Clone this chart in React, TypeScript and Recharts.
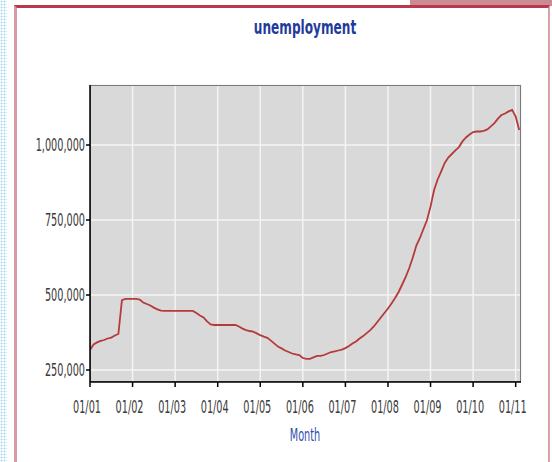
import { LineChart, Line, XAxis, YAxis, CartesianGrid, ReferenceArea } from 'recharts';

// monthly unemployment, Jan 2001 .. Feb 2011
const START_YEAR = 2001;
const UNEMPLOYMENT = [
  317000, 335000, 342000, 347000, 350000, 355000, 358000, 365000, 370000, 483000,
  487000, 487000, 487000, 487000, 485000, 475000, 470000, 465000, 458000, 452000,
  448000, 447000, 447000, 447000, 447000, 447000, 447000, 447000, 447000, 447000,
  440000, 432000, 425000, 412000, 402000, 400000, 400000, 400000, 400000, 400000,
  400000, 400000, 395000, 388000, 383000, 380000, 378000, 372000, 366000, 361000,
  357000, 348000, 338000, 328000, 322000, 315000, 310000, 305000, 302000, 300000,
  290000, 287000, 287000, 292000, 297000, 297000, 300000, 305000, 310000, 312000,
  315000, 318000, 323000, 330000, 338000, 345000, 355000, 363000, 373000, 383000,
  395000, 410000, 425000, 440000, 455000, 472000, 490000, 510000, 535000, 560000,
  590000, 625000, 665000, 690000, 720000, 750000, 795000, 850000, 885000, 912000,
  940000, 958000, 970000, 982000, 993000, 1012000, 1025000, 1035000, 1043000, 1045000,
  1045000, 1047000, 1052000, 1062000, 1073000, 1088000, 1100000, 1105000, 1112000, 1117000,
  1095000, 1050000,
];

const X_TICKS = [0, 12, 24, 36, 48, 60, 72, 84, 96, 108, 120];
const X_TICK_LABELS = ['01/01', '01/02', '01/03', '01/04', '01/05', '01/06', '01/07', '01/08', '01/09', '01/10', '01/11'];
const Y_TICKS = [250000, 500000, 750000, 1000000];

const data = UNEMPLOYMENT.map((value, i) => ({ month: i, value }));

const FONT = '"DejaVu Sans Condensed", "DejaVu Sans", sans-serif';
// the original text is squeezed sideways and stretched up
const SCALE = 'scale(0.77,1.25)';

const XTick = ({ x, y, payload }: any) => {
  const idx = X_TICKS.indexOf(payload.value);
  return (
    <g transform={`translate(${x - 3},${y}) ${SCALE}`}>
      <text x={0} y={20.5} textAnchor="middle" fill="#3a3a3a" fontSize={14} fontFamily={FONT}>
        {X_TICK_LABELS[idx] ?? ''}
      </text>
    </g>
  );
};

const YTick = ({ x, y, payload }: any) => (
  <g transform={`translate(${x - 1},${y}) ${SCALE}`}>
    <text x={0} y={5} textAnchor="end" fill="#3a3a3a" fontSize={14} fontFamily={FONT}>
      {payload.value.toLocaleString('en-US')}
    </text>
  </g>
);

export default function App() {
  return (
    <div style={{ position: 'fixed', left: 0, top: 0, width: 552, height: 462, background: '#fff', overflow: 'hidden' }}>
      {/* dotted strip on the left */}
      <div
        style={{
          position: 'absolute', left: 0, top: 0, width: 7, height: 462,
          backgroundImage: 'radial-gradient(circle, #a9d8f2 0.9px, transparent 1.1px)',
          backgroundSize: '3px 3px',
        }}
      />
      {/* pink block top right */}
      <div style={{ position: 'absolute', left: 410, top: 0, width: 142, height: 6, background: '#cc8a93' }} />
      {/* frame */}
      <div
        style={{
          position: 'absolute', left: 14, top: 5, width: 531, height: 470,
          borderTop: '3px solid #b8394f', borderLeft: '3px solid #d79aa2', borderRight: '2px solid #d9a3a9',
        }}
      />
      <div style={{ position: 'absolute', left: 0, top: 0 }}>
        <LineChart width={552} height={462} data={data} margin={{ top: 85, right: 31, bottom: 50, left: 10 }}>
          <CartesianGrid fill="#d9d9d9" stroke="#f4f4f4" strokeWidth={1.5} />
          <ReferenceArea x1={0} x2={121.5} y1={210000} y2={1200000} fill="none" stroke="#7a7a7a" strokeWidth={2} ifOverflow="hidden" />
          <XAxis
            dataKey="month"
            type="number"
            domain={[0, 121.5]}
            ticks={X_TICKS}
            allowDataOverflow
            height={30}
            tickSize={5}
            tickMargin={0}
            stroke="#000"
            strokeWidth={1.5}
            tick={<XTick />}
          />
          <YAxis
            type="number"
            domain={[210000, 1200000]}
            ticks={Y_TICKS}
            allowDataOverflow
            width={80}
            tickSize={4}
            tickMargin={0}
            stroke="#000"
            strokeWidth={1.5}
            tick={<YTick />}
          />
          <Line type="linear" dataKey="value" stroke="#b53a3a" strokeWidth={1.8} dot={false} isAnimationActive={false} />
        </LineChart>
      </div>
      <svg width={552} height={462} style={{ position: 'absolute', left: 0, top: 0, pointerEvents: 'none' }}>
        <g transform="translate(305,34) scale(0.77,1.15)">
          <text x={0} y={0} textAnchor="middle" fontWeight="bold" fontSize={17.5} fill="#1f3c9c" fontFamily={FONT}>
            unemployment
          </text>
        </g>
        <g transform={`translate(305,441) ${SCALE}`}>
          <text x={0} y={0} textAnchor="middle" fontSize={14} fill="#2f4fb0" fontFamily={FONT}>
            Month
          </text>
        </g>
      </svg>
    </div>
  );
}
